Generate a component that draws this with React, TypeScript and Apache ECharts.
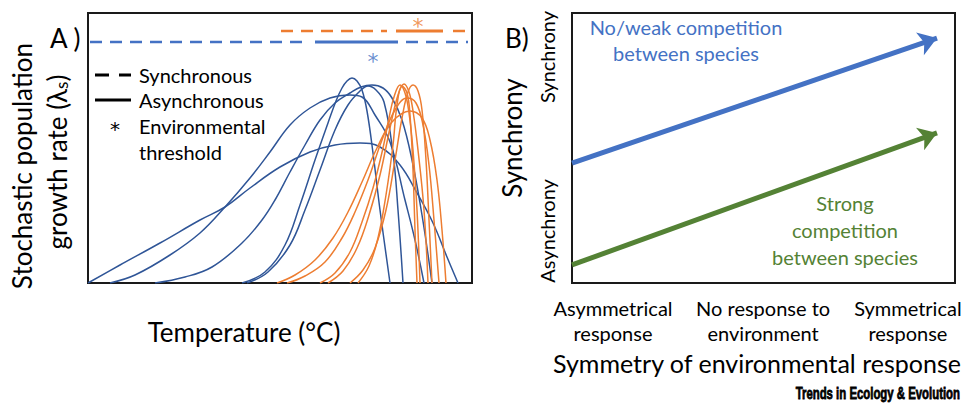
import React, { useEffect, useRef } from "react";
import * as echarts from "echarts";

const FONT = 'Lato, "Noto Sans", "DejaVu Sans", sans-serif';
const STAR_FONT = '"DejaVu Sans", sans-serif';

// Panel A: temperature (x) vs stochastic growth rate (y), arbitrary units
const blueCurves: number[][][] = [
  [[0,0],[32,18],[72,40],[112,63],[137,76],[162,95],[192,116],[222,131],[247,138],[272,140],[292,136],[312,118],[329,90],[345,60],[359,26],[370,0]],
  [[22,0],[47,8],[82,28],[112,50],[137,76],[162,105],[182,131],[202,158],[222,175],[242,185],[262,188],[274,186],[287,168],[302,141],[317,83],[327,43],[336,0]],
  [[154,0],[177,11],[197,38],[212,78],[227,123],[240,160],[248,182],[254,195],[259,202],[264,205],[269,202],[274,193],[279,172],[285,130],[292,73],[302,0]],
  [[159,0],[180,11],[202,38],[217,73],[232,113],[247,153],[260,178],[272,192],[280,197],[288,193],[296,181],[305,130],[310,73],[315,0]],
  [[67,0],[97,6],[124,16],[154,40],[174,63],[187,83],[202,111],[217,138],[232,163],[247,180],[262,190],[273,196],[284,198],[295,195],[304,185],[314,163],[324,123],[334,68],[344,0]],
];
const orangeCurves: number[][][] = [
  [[189,0],[207,8],[227,23],[245,45],[260,71],[274,101],[289,135],[304,161],[322,172],[334,165],[342,143],[349,103],[354,53],[358,0]],
  [[199,0],[217,7],[237,21],[254,45],[267,71],[280,103],[294,143],[307,173],[319,185],[328,180],[335,158],[341,118],[346,63],[351,0]],
  [[232,0],[247,10],[262,31],[274,61],[285,95],[295,135],[301,165],[306,186],[312,198],[317,190],[321,170],[325,133],[329,73],[332,0]],
  [[240,0],[255,12],[269,35],[281,68],[292,108],[302,155],[310,188],[316,199],[321,191],[325,172],[330,133],[336,73],[340,0]],
  [[262,0],[275,13],[287,35],[298,73],[307,123],[314,165],[320,191],[325,198],[330,192],[334,173],[338,123],[341,63],[344,0]],
  [[270,0],[281,17],[290,45],[298,88],[305,138],[309,178],[314,197],[319,190],[322,168],[325,113],[327,53],[329,0]],
];
// thresholds (synchronous = dashed, asynchronous = solid)
const blueLevel = 241;
const blueDashed: number[][] = [[2, 219], [318, 380]];
const blueSolid: number[] = [227, 310];
const blueStar: number[] = [285, 226];
const orangeLevel = 252;
const orangeDashed: number[][] = [[193, 299], [365, 377]];
const orangeSolid: number[] = [308, 355];
const orangeStar: number[] = [330, 261];

// Panel B: symmetry of environmental response (x) vs synchrony (y)
const bXTicks: number[] = [10.7, 49.9, 87.7];
const bXLabels: string[] = ["Asymmetrical\nresponse", "No response to\nenvironment", "Symmetrical\nresponse"];
const bYTicks: number[] = [83.7, 19.3];
const bYLabels: string[] = ["Synchrony", "Asynchrony"];
const weakCompetition: number[][] = [[0, 44.4], [95.3, 90.7]];
const strongCompetition: number[][] = [[0, 6.7], [95.3, 55.6]];

const DARK_BLUE = "#2F5597";
const BLUE = "#4472C4";
const ORANGE = "#ED7D31";
const GREEN = "#548235";

export default function App() {
  const ref = useRef<HTMLDivElement>(null);
  useEffect(() => {
    document.body.style.margin = "0";
    const chart = echarts.init(ref.current!, null, { renderer: "svg" });
    const curveSeries = (data: number[][], color: string) => ({
      type: "line", xAxisIndex: 0, yAxisIndex: 0, data, smooth: 0.4, symbol: "none",
      lineStyle: { color, width: 1.5 }, silent: true, z: 2,
    });
    const seg = (x0: number, x1: number, y: number, color: string, dashed: boolean) => ({
      type: "line", xAxisIndex: 0, yAxisIndex: 0, data: [[x0, y], [x1, y]], symbol: "none",
      lineStyle: { color, width: dashed ? 2.5 : 3, type: dashed ? [12, 8] : "solid" }, silent: true, z: 3,
    });
    const star = (p: number[], color: string) => ({
      type: "scatter", xAxisIndex: 0, yAxisIndex: 0, data: [p], symbolSize: 1,
      itemStyle: { color: "rgba(0,0,0,0)" }, silent: true,
      label: { show: true, position: "inside", formatter: "*", fontSize: 22, color, fontFamily: STAR_FONT, offset: [0, 4] },
    });
    const arrow = (coords: number[][], color: string) => ({
      type: "lines", coordinateSystem: "cartesian2d", xAxisIndex: 1, yAxisIndex: 1,
      data: [{ coords }], symbol: ["none", "arrow"], symbolSize: [14, 18],
      lineStyle: { color, width: 5, opacity: 1, curveness: 0 }, silent: true,
    });
    const txt = (text: string, x: number, y: number, size: number, extra: any = {}, fill = "#000", family = FONT) => ({
      type: "text", x, y, ...extra,
      style: { text, fontSize: size, fontFamily: family, fill, align: extra.align || "center", verticalAlign: "middle", lineHeight: extra.lineHeight },
    });
    chart.setOption({
      animation: false,
      grid: [
        { left: 88, top: 13, width: 384, height: 270, show: true, borderColor: "#1a1a1a", borderWidth: 2, backgroundColor: "transparent" },
        { left: 572, top: 13, width: 383, height: 270, show: true, borderColor: "#1a1a1a", borderWidth: 2, backgroundColor: "transparent" },
      ],
      xAxis: [
        { gridIndex: 0, type: "value", min: 0, max: 384, show: false },
        {
          gridIndex: 1, type: "value", min: 0, max: 100,
          axisLine: { show: false }, axisTick: { show: false }, splitLine: { show: false },
          axisLabel: {
            customValues: bXTicks, fontSize: 20, lineHeight: 25, margin: 12, color: "#000", fontFamily: FONT,
            formatter: (v: number) => bXLabels[bXTicks.indexOf(v)] ?? "",
          },
        },
      ],
      yAxis: [
        { gridIndex: 0, type: "value", min: 0, max: 270, show: false },
        {
          gridIndex: 1, type: "value", min: 0, max: 100,
          axisLine: { show: false }, axisTick: { show: false }, splitLine: { show: false },
          axisLabel: {
            customValues: bYTicks, rotate: 90, fontSize: 20, margin: 15, color: "#000", fontFamily: FONT,
            formatter: (v: number) => bYLabels[bYTicks.indexOf(v)] ?? "",
          },
        },
      ],
      series: [
        ...blueCurves.map((c) => curveSeries(c, DARK_BLUE)),
        ...orangeCurves.map((c) => curveSeries(c, ORANGE)),
        ...blueDashed.map((d) => seg(d[0], d[1], blueLevel, BLUE, true)),
        seg(blueSolid[0], blueSolid[1], blueLevel, BLUE, false),
        ...orangeDashed.map((d) => seg(d[0], d[1], orangeLevel, ORANGE, true)),
        seg(orangeSolid[0], orangeSolid[1], orangeLevel, ORANGE, false),
        star(blueStar, BLUE),
        star(orangeStar, ORANGE),
        arrow(weakCompetition, BLUE),
        arrow(strongCompetition, GREEN),
      ],
      graphic: [
        txt("A )", 50, 38, 26, { align: "left" }),
        txt("B)", 505, 38, 26, { align: "left" }),
        txt("Stochastic population", 22, 166, 26, { rotation: Math.PI / 2 }),
        {
          type: "text", x: 57, y: 162, rotation: Math.PI / 2,
          style: {
            text: "{a|growth rate (λ}{b|s}{a|)}", align: "center", verticalAlign: "middle", fill: "#000",
            fontFamily: FONT,
            rich: { a: { fontSize: 26, fontFamily: FONT, fill: "#000" }, b: { fontSize: 17, fontFamily: FONT, fill: "#000", verticalAlign: "bottom" } },
          },
        },
        txt("Temperature (°C)", 244, 332, 26),
        { type: "line", shape: { x1: 95, y1: 75, x2: 131, y2: 75 }, style: { stroke: "#000", lineWidth: 3, lineDash: [14, 10] } },
        { type: "line", shape: { x1: 95, y1: 100, x2: 131, y2: 100 }, style: { stroke: "#000", lineWidth: 3 } },
        txt("*", 115, 129, 20, {}, "#000", STAR_FONT),
        txt("Synchronous", 139, 75, 20, { align: "left" }),
        txt("Asynchronous", 139, 100, 20, { align: "left" }),
        txt("Environmental", 139, 126, 20, { align: "left" }),
        txt("threshold", 139, 152, 20, { align: "left" }),
        txt("Synchrony", 512, 138, 26, { rotation: Math.PI / 2 }),
        txt("No/weak competition\nbetween species", 686, 40, 20, { lineHeight: 26 }, BLUE),
        txt("Strong\ncompetition\nbetween species", 845, 230, 20, { lineHeight: 27 }, GREEN),
        txt("Symmetry of environmental response", 757, 363, 25),
        {
          type: "text", x: 960, y: 393, scaleX: 0.67,
          style: { text: "Trends in Ecology & Evolution", fontSize: 17, fontWeight: "bold", fontFamily: '"Liberation Sans", Arial, sans-serif', fill: "#000", stroke: "#000", lineWidth: 0.8, align: "right", verticalAlign: "middle" },
        },
      ],
    });
    return () => chart.dispose();
  }, []);
  return <div ref={ref} style={{ width: 967, height: 413 }} />;
}
